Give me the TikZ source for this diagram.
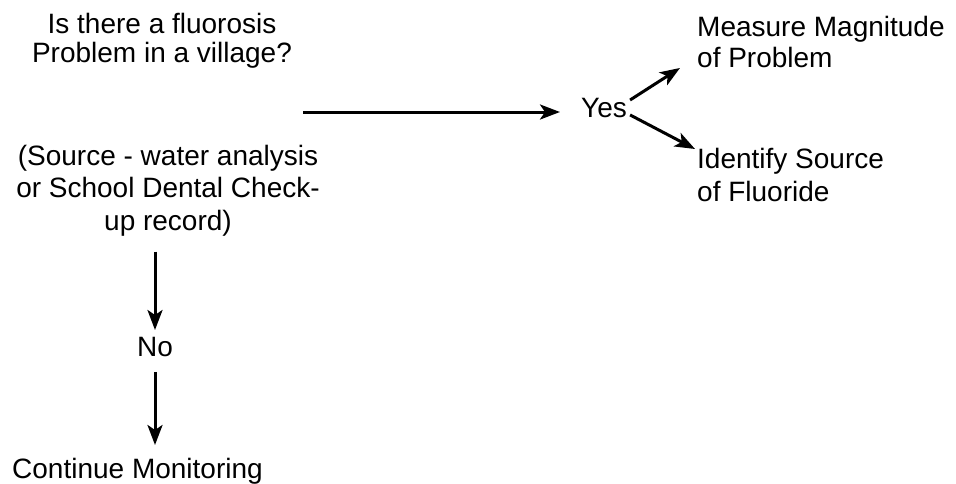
\documentclass[tikz,border=0pt]{standalone}
\usepackage{fontspec}
\setmainfont{Liberation Sans}
\usetikzlibrary{arrows.meta}
\begin{document}
\begin{tikzpicture}[x=1pt,y=-1pt,
  txt/.style={inner sep=0pt,font=\fontsize{28}{31}\selectfont},
  arr/.style={line width=3pt,-{Stealth[length=20pt,width=15pt,inset=5pt]}}]
\useasboundingbox (0,0) rectangle (956,483);
\node[txt,align=center,anchor=north,font=\fontsize{28}{29.5}\selectfont] (q) at (162,13) {Is there a fluorosis\\Problem in a village?};
\node[txt,align=center,anchor=north,font=\fontsize{28}{32.5}\selectfont] (src) at (168,145) {(Source - water analysis\\or School Dental Check-\\up record)};
\node[txt,anchor=north west] (yes) at (581,98) {Yes};
\node[txt,align=left,anchor=north west] (meas) at (697,16) {Measure Magnitude\\of Problem};
\node[txt,align=left,anchor=north west,font=\fontsize{28}{33}\selectfont] (ident) at (697,148) {Identify Source\\of Fluoride};
\node[txt,anchor=north] (no) at (155,337) {No};
\node[txt,anchor=north west] (cont) at (12,458) {Continue Monitoring};
\coordinate (hs) at (303,112);
\coordinate (he) at (560,112);
\draw[arr] (hs) -- (he);
\draw[arr] ([xshift=3pt,yshift=-2pt]yes.north east) -- ([xshift=-17pt]meas.south west);
\draw[arr] ([xshift=3pt,yshift=3pt]yes.south east) -- ([xshift=-2pt,yshift=-1pt]ident.north west);
\draw[arr,shorten <=15pt,shorten >=7pt] (src.south -| no.north) -- (no.north);
\draw[arr,shorten <=15pt,shorten >=13pt] (no.south) -- (no.south |- cont.north);
\end{tikzpicture}
\end{document}
